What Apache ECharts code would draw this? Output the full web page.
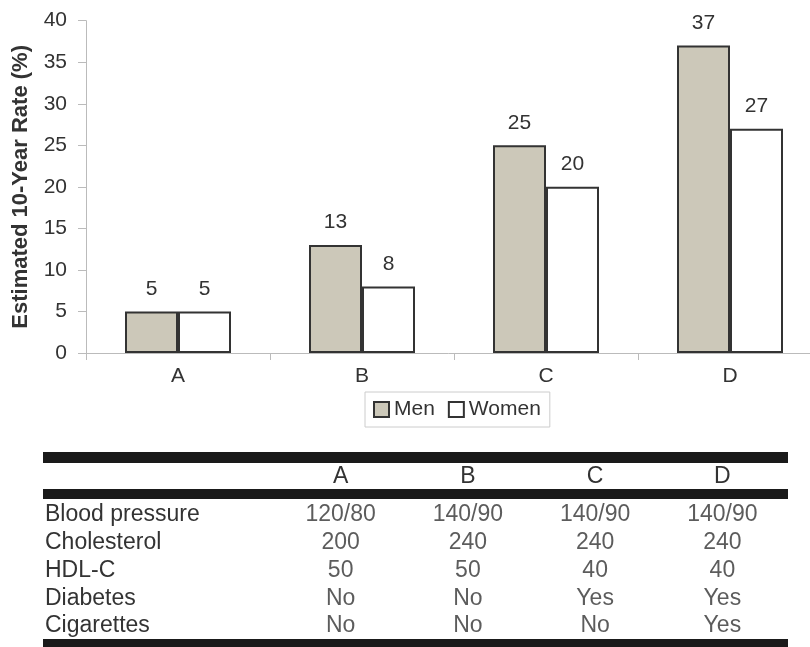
<!DOCTYPE html>
<html lang="en">
<head>
    <meta charset="UTF-8">
    <title>Estimated 10-Year Rate</title>
    <script type="text/javascript" src="https://cdn.jsdelivr.net/npm/echarts@6/dist/echarts.min.js"></script>
    <style>
        body { margin: 0; background: #fff; }
    </style>
</head>
<body>
<div id="main" style="width: 810px;height:647px;"></div>
<script>
    // chart data
    var categories = ['A', 'B', 'C', 'D'];
    var men = [5, 13, 25, 37];
    var women = [5, 8, 20, 27];
    var yTicks = [0, 40, 5]; // min, max, step

    // risk factor table
    var rowNames = ['Blood pressure', 'Cholesterol', 'HDL-C', 'Diabetes', 'Cigarettes'];
    var bloodPressure = ['120/80', '140/90', '140/90', '140/90'];
    var cholesterol = ['200', '240', '240', '240'];
    var hdl = ['50', '50', '40', '40'];
    var diabetes = ['No', 'No', 'Yes', 'Yes'];
    var cigarettes = ['No', 'No', 'No', 'Yes'];

    var font = "'Liberation Sans', Arial, sans-serif";
    var textColor = '#333';

    var tableRows = [bloodPressure, cholesterol, hdl, diabetes, cigarettes];
    var cells = [];
    for (var r = 0; r < tableRows.length; r++) {
        for (var c = 0; c < categories.length; c++) {
            cells.push([c, r, tableRows[r][c]]);
        }
    }

    var myChart = echarts.init(document.getElementById('main'));

    myChart.setOption({
        animation: false,
        textStyle: { fontFamily: font },
        grid: [
            { left: 86, right: -12, top: 20.7, bottom: 294, outerBoundsMode: 'none' },
            { left: 277, right: 24, top: 501, bottom: 7, outerBoundsMode: 'none' }
        ],
        legend: {
            data: ['Men', 'Women'],
            left: 365,
            top: 392,
            padding: [7, 9, 7, 8],
            itemGap: 13,
            itemWidth: 15,
            itemHeight: 15,
            itemStyle: { borderColor: '#333', borderWidth: 2 },
            icon: 'rect',
            borderColor: '#ccc',
            borderWidth: 1,
            textStyle: { fontSize: 21, color: textColor }
        },
        xAxis: [
            {
                type: 'category',
                gridIndex: 0,
                data: categories,
                axisLine: { lineStyle: { color: '#bbb', width: 1 } },
                axisTick: { show: true, length: 7, lineStyle: { color: '#bbb' } },
                axisLabel: { fontSize: 21, color: textColor, margin: 13 }
            },
            {
                type: 'category',
                gridIndex: 1,
                position: 'top',
                data: categories,
                axisLine: { show: false },
                axisTick: { show: false },
                axisLabel: { fontSize: 23, color: textColor, margin: 13 }
            }
        ],
        yAxis: [
            {
                type: 'value',
                gridIndex: 0,
                min: yTicks[0],
                max: yTicks[1],
                interval: yTicks[2],
                name: 'Estimated 10-Year Rate (%)',
                nameLocation: 'middle',
                nameGap: 54,
                nameTextStyle: { fontSize: 22, fontWeight: 'bold', color: textColor },
                splitLine: { show: false },
                axisLine: { show: true, lineStyle: { color: '#bbb' } },
                axisTick: { show: true, length: 8, lineStyle: { color: '#bbb' } },
                axisLabel: { fontSize: 21, color: textColor, margin: 19 }
            },
            {
                type: 'category',
                gridIndex: 1,
                inverse: true,
                data: rowNames,
                axisLine: { show: false },
                axisTick: { show: false },
                axisLabel: { fontSize: 23, color: textColor, align: 'left', margin: 232, interval: 0 }
            }
        ],
        graphic: [
            { type: 'rect', shape: { x: 43, y: 452, width: 745, height: 11 }, style: { fill: '#1a1a1a' } },
            { type: 'rect', shape: { x: 43, y: 489, width: 745, height: 10 }, style: { fill: '#1a1a1a' } },
            { type: 'rect', shape: { x: 43, y: 639, width: 745, height: 10 }, style: { fill: '#1a1a1a' } }
        ],
        series: [
            {
                name: 'Men',
                type: 'bar',
                xAxisIndex: 0,
                yAxisIndex: 0,
                data: men,
                barWidth: 53,
                barGap: '0%',
                itemStyle: { color: '#ccc8b9', borderColor: '#333', borderWidth: 2 },
                label: { show: true, position: 'top', distance: 12, fontSize: 21, color: textColor }
            },
            {
                name: 'Women',
                type: 'bar',
                xAxisIndex: 0,
                yAxisIndex: 0,
                data: women,
                barWidth: 53,
                barGap: '0%',
                itemStyle: { color: '#ffffff', borderColor: '#333', borderWidth: 2 },
                label: { show: true, position: 'top', distance: 12, fontSize: 21, color: textColor }
            },
            {
                name: 'table',
                type: 'scatter',
                xAxisIndex: 1,
                yAxisIndex: 1,
                symbolSize: 0,
                data: cells,
                label: {
                    show: true,
                    position: 'inside',
                    fontSize: 23,
                    color: textColor,
                    formatter: function (p) { return p.value[2]; }
                }
            }
        ]
    });
</script>
</body>
</html>
